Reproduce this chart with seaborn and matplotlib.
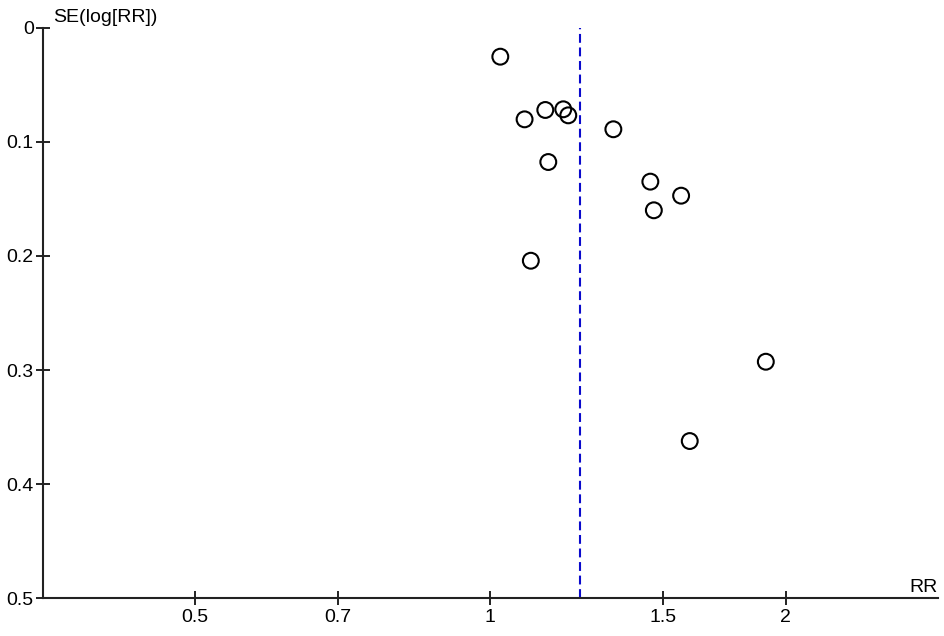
import matplotlib
matplotlib.use("Agg")
import matplotlib.pyplot as plt
import seaborn as sns
import pandas as pd
from matplotlib.ticker import FixedLocator, FixedFormatter, NullLocator

# ---- data ----
rr = [1.024, 1.084, 1.138, 1.187, 1.201, 1.335, 1.146, 1.456, 1.565, 1.468, 1.100, 1.909, 1.597]
se = [0.0254, 0.0803, 0.0721, 0.0715, 0.0768, 0.0890, 0.1177, 0.1349, 0.1472, 0.1600, 0.2042, 0.2927, 0.3622]
pooled_rr = 1.235

x_ticks = [0.5, 0.7, 1, 1.5, 2]
x_tick_labels = ["0.5", "0.7", "1", "1.5", "2"]
y_ticks = [0, 0.1, 0.2, 0.3, 0.4, 0.5]
y_tick_labels = ["0", "0.1", "0.2", "0.3", "0.4", "0.5"]
x_label = "RR"
y_label = "SE(log[RR])"

df = pd.DataFrame({"RR": rr, "SE": se})

sns.set_theme(style="white")
plt.rcParams["font.family"] = ["Liberation Sans", "DejaVu Sans"]

fig = plt.figure(figsize=(9.45, 6.36), dpi=100)
ax = fig.add_axes([42.7 / 945, 1 - 598.3 / 636, (937.7 - 42.7) / 945, (598.3 - 27.7) / 636])

ax.axvline(pooled_rr, color="#0a0acc", linewidth=1.5, dashes=(4.25, 2.25), zorder=1)

sns.scatterplot(data=df, x="RR", y="SE", ax=ax, marker="o", s=130,
                facecolors="none", edgecolors="black", linewidth=1.5, zorder=3,
                legend=False)

ax.set_xscale("log")
ax.set_xlim(0.35, 1 / 0.35)
ax.set_ylim(0.5, 0)

ax.xaxis.set_major_locator(FixedLocator(x_ticks))
ax.xaxis.set_major_formatter(FixedFormatter(x_tick_labels))
ax.xaxis.set_minor_locator(NullLocator())
ax.yaxis.set_major_locator(FixedLocator(y_ticks))
ax.yaxis.set_major_formatter(FixedFormatter(y_tick_labels))

ax.set_xlabel("")
ax.set_ylabel("")

for side in ["top", "right"]:
    ax.spines[side].set_visible(False)
for side in ["left", "bottom"]:
    ax.spines[side].set_linewidth(1.5)
    ax.spines[side].set_color("#222222")

ax.tick_params(axis="both", direction="inout", length=10, width=1.4,
               color="#222222", labelsize=14, labelcolor="black")
ax.tick_params(axis="x", pad=3)
ax.tick_params(axis="y", pad=1.5)
ax.tick_params(bottom=True, left=True)

fig.text(53 / 945, 1 - 18 / 636, y_label, ha="left", va="center", fontsize=14, color="black")
fig.text(937.7 / 945, 1 - 588 / 636, x_label, ha="right", va="center", fontsize=14, color="black")

fig.savefig("out.png", dpi=100, facecolor="white")
